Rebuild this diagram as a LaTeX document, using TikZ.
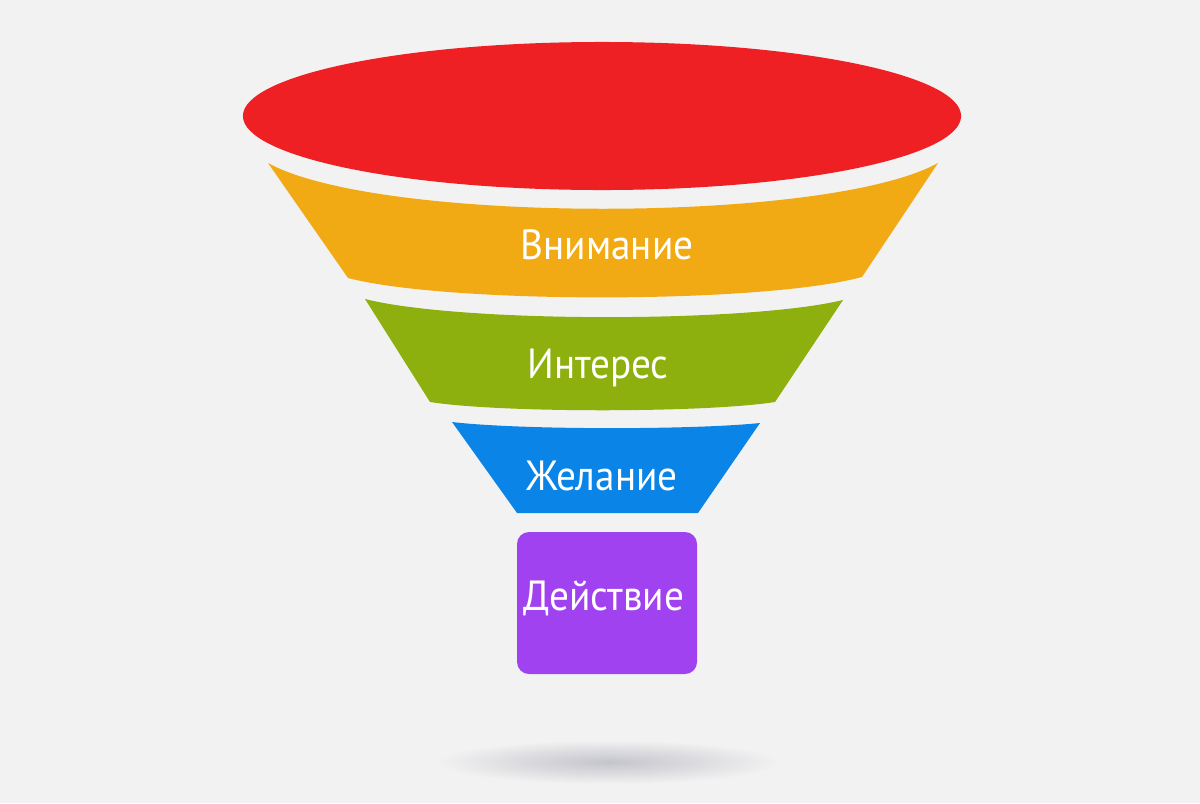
\documentclass[tikz,border=0pt]{standalone}
\usepackage{fontspec}
\setmainfont{PT Sans}
\definecolor{bgc}{RGB}{242,242,242}
\definecolor{redc}{RGB}{238,32,36}
\definecolor{orgc}{RGB}{242,170,20}
\definecolor{grnc}{RGB}{141,176,14}
\definecolor{bluc}{RGB}{10,132,230}
\definecolor{purc}{RGB}{160,66,240}
\definecolor{shc}{RGB}{196,196,204}
\begin{document}
\begin{tikzpicture}[x=0.025cm,y=-0.025cm,
  lbl/.style={text=white,font=\fontsize{30}{30}\selectfont,inner sep=0pt,anchor=center,xscale=0.93}]
\fill[bgc] (0,0) rectangle (1200,803);
\useasboundingbox (0,0) rectangle (1200,803);
% shadow
\shade[inner color=shc,outer color=bgc] (608,762) ellipse [x radius=4.3cm,y radius=0.55cm];
% red top
\fill[redc] (602,116) ellipse [x radius=8.975cm,y radius=1.85cm];
% orange band
\fill[orgc] (268,163) .. controls (378,224) and (828,224) .. (938,163)
  -- (862,277) .. controls (762,304) and (448,304) .. (348,278) -- cycle;
% green band
\fill[grnc] (365,299) .. controls (460,323) and (748,323) .. (843,300)
  -- (775,402) .. controls (705,413) and (500,413) .. (430,402) -- cycle;
% blue band
\fill[bluc] (452,422) .. controls (520,430) and (692,430) .. (760,423)
  -- (698,513) -- (517,513) -- cycle;
% purple box
\fill[purc, rounded corners=0.3cm] (517,532) rectangle (697,674);
% labels
\node[lbl] (att) at (607,245) {Внимание};
\node[lbl] (int) at (598,368) {Интерес};
\node[lbl] (des) at (602,476) {Желание};
\node[lbl] (act) at (604,598) {Действие};
\end{tikzpicture}
\end{document}
